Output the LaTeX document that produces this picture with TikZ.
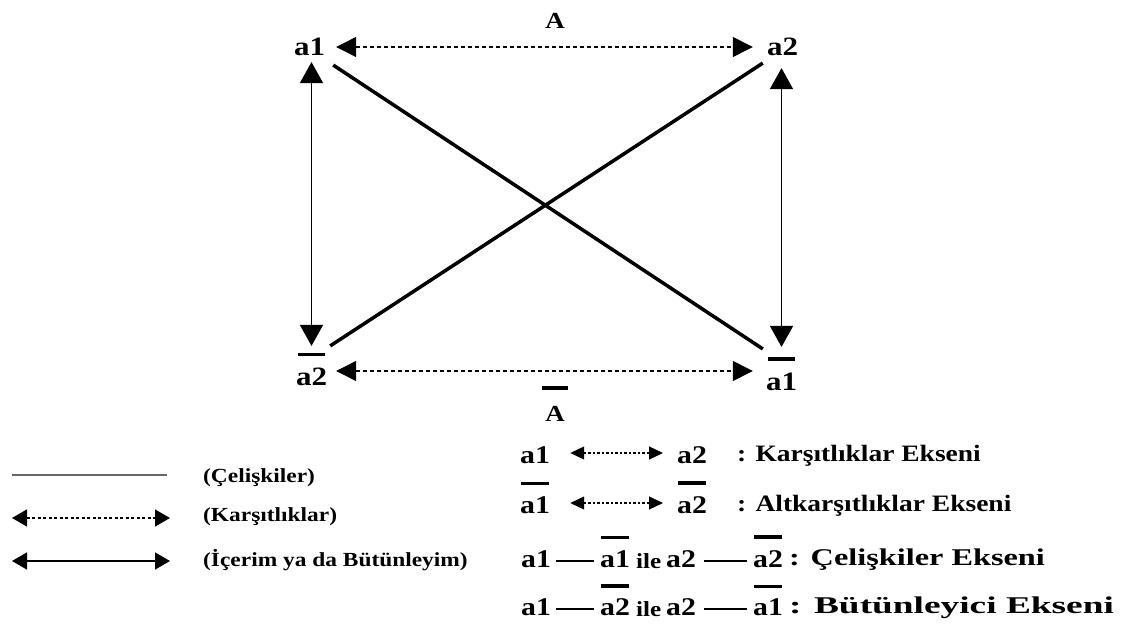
\documentclass[tikz,border=0pt]{standalone}
\usepackage{fontspec}
\setmainfont{Liberation Serif}[FakeStretch=1.17]
\usetikzlibrary{arrows.meta,calc}
\begin{document}
\begin{tikzpicture}[x=1pt,y=-1pt,
  lab/.style={font=\bfseries\fontsize{26.5}{30}\selectfont, inner sep=0pt},
  bigA/.style={font=\bfseries\fontsize{23}{26}\selectfont, inner sep=0pt},
  leg/.style={font=\bfseries\fontsize{20}{24}\selectfont, inner sep=0pt, anchor=west},
  rlab/.style={font=\bfseries\fontsize{25.5}{28}\selectfont, inner sep=0pt, anchor=west},
  rtxt/.style={font=\bfseries\fontsize{23.5}{26}\selectfont, inner sep=0pt, anchor=west},
  rtxtb/.style={font=\bfseries\fontsize{24}{26}\selectfont, inner sep=0pt, anchor=west},
  ile/.style={font=\bfseries\fontsize{21.5}{24}\selectfont, inner sep=0pt, anchor=west},
  ovbar/.style={line width=3.5pt},
  dasharr/.style={line width=1.3pt, dash pattern=on 4pt off 3pt, {Triangle[length=20pt,width=20pt]}-{Triangle[length=20pt,width=20pt]}},
  vertarr/.style={line width=1.5pt, {Triangle[length=21pt,width=23pt]}-{Triangle[length=21pt,width=23pt]}},
  diag/.style={line width=3.5pt},
  legline/.style={line width=1.8pt, draw=black!60},
  legdash/.style={line width=1.3pt, dash pattern=on 3pt off 2.5pt, {Triangle[length=15pt,width=17pt]}-{Triangle[length=15pt,width=17pt]}},
  legarr/.style={line width=1.5pt, {Triangle[length=15pt,width=17pt]}-{Triangle[length=15pt,width=17pt]}},
  smalldash/.style={line width=1.2pt, dash pattern=on 2.5pt off 2pt, {Triangle[length=14pt,width=13pt]}-{Triangle[length=14pt,width=13pt]}},
  emline/.style={line width=1.4pt}
]
\fill[white] (0,0) rectangle (1122,628);
\useasboundingbox (0,0) rectangle (1122,628);

% main labels
\node[lab] (a1) at (309.5,47) {a1};
\node[lab] (a2) at (782.5,47) {a2};
\node[lab] (a2b) at (311.5,377) {a2};
\node[lab] (a1b) at (781.5,382) {a1};
\node[bigA] (A) at (555,21) {A};
\node[bigA] (Ab) at (555,414) {A};

% overbars
\draw[ovbar] ($(a2b.north)+(-13.5,-13.5)$) -- ++(27,0);
\draw[ovbar] ($(a1b.north)+(-13.5,-14)$) -- ++(27,0);
\draw[ovbar] ($(Ab.north)+(-13,-18)$) -- ++(26,0);

% dashed arrows
\draw[dasharr, shorten <=11pt, shorten >=14pt] (a1.east) -- (a2.west);
\draw[dasharr] ($(a2b.east)+(9,-6)$) -- ($(a1b.west)+(-13,-11)$);

% vertical arrows
\draw[vertarr, shorten <=6pt, shorten >=22pt] (a2b.north |- a1.south) -- (a2b.north);
\draw[vertarr, shorten <=12pt, shorten >=26pt] (a1b.north |- a2.south) -- (a1b.north);

% diagonals
\coordinate (d1s) at ($(a1.south east)+(8,9)$);
\coordinate (d1e) at ($(a1b.north west)+(-3,-24)$);
\coordinate (d2s) at ($(a2b.north east)+(3,-22)$);
\coordinate (d2e) at ($(a2.south west)+(-4,7)$);
\draw[diag] (d1s) -- (d1e);
\draw[diag] (d2s) -- (d2e);

% left legend
\node[leg] (lc) at (203,478) {(Çelişkiler)};
\node[leg] (lk) at (203,517) {(Karşıtlıklar)};
\node[leg] (li) at (203,560) {(İçerim ya da Bütünleyim)};
\draw[legline] ($(lc.west)+(-191,-3)$) -- ($(lc.west)+(-36,-3)$);
\draw[legdash] ($(lk.west)+(-191,1)$) -- ($(lk.west)+(-33,1)$);
\draw[legarr] ($(li.west)+(-191,1)$) -- ($(li.west)+(-33,1)$);

% right legend row 1
\node[rlab] (r1a) at (520,455) {a1};
\node[rlab] (r1b) at (677,455) {a2};
\node[rtxt] (r1t) at (737,456) {: Karşıtlıklar Ekseni};
\draw[smalldash] ($(r1a.east)+(20,-2)$) -- ($(r1b.west)+(-14,-2)$);

% row 2
\node[rlab] (r2a) at (520,505) {a1};
\node[rlab] (r2b) at (677,505) {a2};
\node[rtxt] (r2t) at (737,506) {: Altkarşıtlıklar Ekseni};
\draw[smalldash] ($(r2a.east)+(20,-2)$) -- ($(r2b.west)+(-14,-2)$);
\draw[ovbar] ($(r2a.north)+(-14,-13)$) -- ++(28,0);
\draw[ovbar] ($(r2b.north)+(-14,-13)$) -- ++(28,0);

% row 3
\node[rlab] (r3a) at (521,559) {a1};
\node[rlab] (r3b) at (600,559) {a1};
\node[ile] (r3i) at (636,561) {ile};
\node[rlab] (r3c) at (666,559) {a2};
\node[rlab] (r3d) at (753,559) {a2};
\node[rtxtb] (r3t) at (789,560) {\scalebox{1.15}[1]{: Çelişkiler Ekseni}};
\draw[emline] ($(r3a.east)+(5,2)$) -- ($(r3b.west)+(-6,2)$);
\draw[emline] ($(r3c.east)+(8,2)$) -- ($(r3d.west)+(-6,2)$);
\draw[ovbar] ($(r3b.north)+(-14,-13)$) -- ++(28,0);
\draw[ovbar] ($(r3d.north)+(-14,-13)$) -- ++(28,0);

% row 4
\node[rlab] (r4a) at (521,607) {a1};
\node[rlab] (r4b) at (600,607) {a2};
\node[ile] (r4i) at (636,609) {ile};
\node[rlab] (r4c) at (666,607) {a2};
\node[rlab] (r4d) at (753,607) {a1};
\node[rtxtb] (r4t) at (789,608) {\scalebox{1.33}[1]{: Bütünleyici Ekseni}};
\draw[emline] ($(r4a.east)+(5,2)$) -- ($(r4b.west)+(-6,2)$);
\draw[emline] ($(r4c.east)+(8,2)$) -- ($(r4d.west)+(-6,2)$);
\draw[ovbar] ($(r4b.north)+(-14,-12)$) -- ++(28,0);
\draw[ovbar] ($(r4d.north)+(-14,-12)$) -- ++(28,0);
\end{tikzpicture}
\end{document}
